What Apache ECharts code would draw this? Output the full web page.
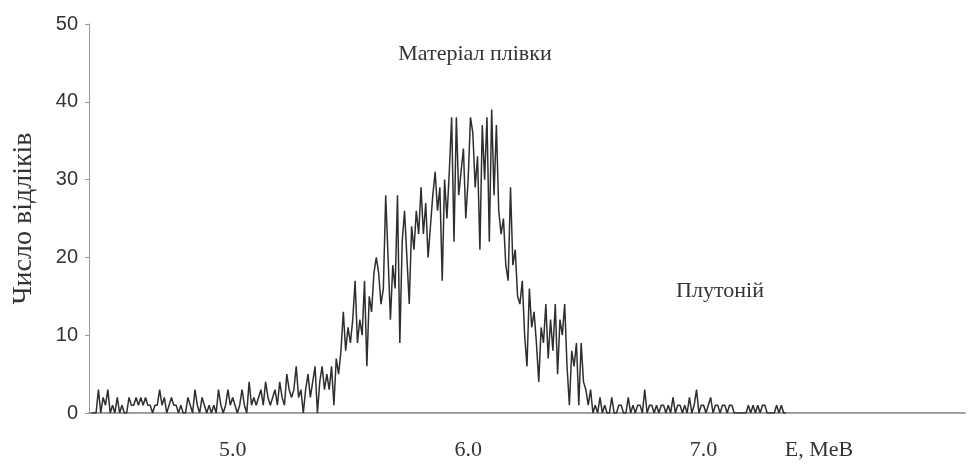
<!DOCTYPE html>
<html>
<head>
<meta charset="utf-8">
<script src="https://cdn.jsdelivr.net/npm/echarts@6/dist/echarts.min.js"></script>
<style>
  html, body { margin: 0; padding: 0; background: #ffffff; }
  #chart { width: 969px; height: 470px; }
</style>
</head>
<body>
<div id="chart"></div>
<script>
// Channel grid of the spectrum (MeV)
const energyStart = 4.40;
const energyStep = 0.01;

// Counts per channel
const countsLowTail = [
  0,0,0,3,0,2,1,3,0,1,
  0,2,0,1,0,0,2,1,1,2,
  1,2,1,2,1,1,0,1,1,3,
  1,2,0,1,2,1,1,0,1,0,
  0,2,1,0,3,1,0,2,1,0,
  1,0,1,0,3,1,0,1,3,1,
  2,1,0,1,3,1,0,4,1,2,
  1,2,3,1,4,2,1,2,3,1,
  4,2,1,5,3,2,3,6,2,3
];
const countsRise = [
  0,3,5,2,4,6,0,4,6,3,
  5,3,6,1,7,5,8,13,8,11,
  9,12,17,9,12,10,17,6,15,13,
  18,20,18,14,16,28,20,12,19,16,
  28,9,22,26,20,14,24,21,26,23,
  29,23,27,20,24,28,31,26,29,17
];
const countsPeak = [
  30,25,31,38,22,38,28,31,34,25,
  30,38,36,29,33,21,37,30,38,22,
  39,28,37,26,23,25,19,17,29,19,
  21,15,14,17,10,6,16,11,13,9
];
const countsFall = [
  4,11,9,14,7,12,8,14,5,12,
  10,14,6,1,8,6,9,1,9,4,
  3,1,3,0,1,0,2,0,1,0
];
const countsHighTail = [
  0,2,0,0,1,1,0,0,2,0,
  1,0,1,1,0,3,0,1,1,0,
  1,0,1,1,0,1,0,2,0,1,
  1,0,1,0,2,0,1,3,0,1,
  1,0,1,2,0,1,1,0,1,1,
  0,1,1,0,0,0,0,0,0,1,
  0,1,0,1,0,1,1,0,0,0,
  0,1,0,1,0,0
];

// Axis ticks
const yTicks = [0, 10, 20, 30, 40, 50];
const xTickValues = [5.0, 6.0, 7.0, 7.49];
const xTickLabels = ['5.0', '6.0', '7.0', 'E, MeB'];

const titleText = 'Матеріал плівки';
const noteText = 'Плутоній';
const yTitle = 'Число відліків';

const counts = [].concat(countsLowTail, countsRise, countsPeak, countsFall, countsHighTail);
const seriesData = counts.map((c, i) => [+(energyStart + i * energyStep).toFixed(3), c]);

const chart = echarts.init(document.getElementById('chart'), null, { renderer: 'canvas' });
chart.setOption({
  backgroundColor: '#ffffff',
  animation: false,
  grid: { left: 89, right: 4, top: 24, bottom: 57, containLabel: false },
  xAxis: [
    {
      type: 'value', min: 4.39, max: 8.11, position: 'bottom',
      axisLine: { show: true, onZero: false, lineStyle: { color: '#777', width: 1.5 } },
      axisTick: { show: false },
      splitLine: { show: false },
      axisLabel: {
        customValues: xTickValues,
        margin: 26,
        fontFamily: 'Liberation Serif', fontSize: 22, color: '#333',
        formatter: v => {
          const k = xTickValues.findIndex(t => Math.abs(t - v) < 1e-6);
          return k >= 0 ? xTickLabels[k] : '';
        }
      }
    },
    {
      type: 'value', min: 4.39, max: 8.11, position: 'top',
      axisLine: { show: true, lineStyle: { color: '#aaa', width: 1, type: 'dotted' } },
      axisTick: { show: false }, axisLabel: { show: false }, splitLine: { show: false }
    }
  ],
  yAxis: {
    type: 'value', min: 0, max: 50, interval: 10,
    name: yTitle, nameLocation: 'middle', nameRotate: 90, nameGap: 51,
    nameTextStyle: { fontFamily: 'Liberation Serif', fontSize: 28, color: '#333' },
    axisLine: { show: true, lineStyle: { color: '#999', width: 1 } },
    axisTick: { show: true, length: 4, lineStyle: { color: '#999' } },
    splitLine: { show: false },
    axisLabel: {
      margin: 11, fontFamily: 'Liberation Sans', fontSize: 20, color: '#333',
      formatter: v => yTicks.includes(v) ? String(v) : ''
    }
  },
  series: [{
    type: 'line',
    data: seriesData,
    showSymbol: false,
    symbol: 'none',
    lineStyle: { color: '#2e2e2e', width: 1.5 },
    z: 3
  }],
  graphic: [
    { type: 'text', x: 475, y: 54, style: { text: titleText, fontFamily: 'Liberation Serif', fontSize: 22, fill: '#333', align: 'center', verticalAlign: 'middle' } },
    { type: 'text', x: 720, y: 291, style: { text: noteText, fontFamily: 'Liberation Serif', fontSize: 22, fill: '#333', align: 'center', verticalAlign: 'middle' } }
  ]
});
</script>
</body>
</html>
